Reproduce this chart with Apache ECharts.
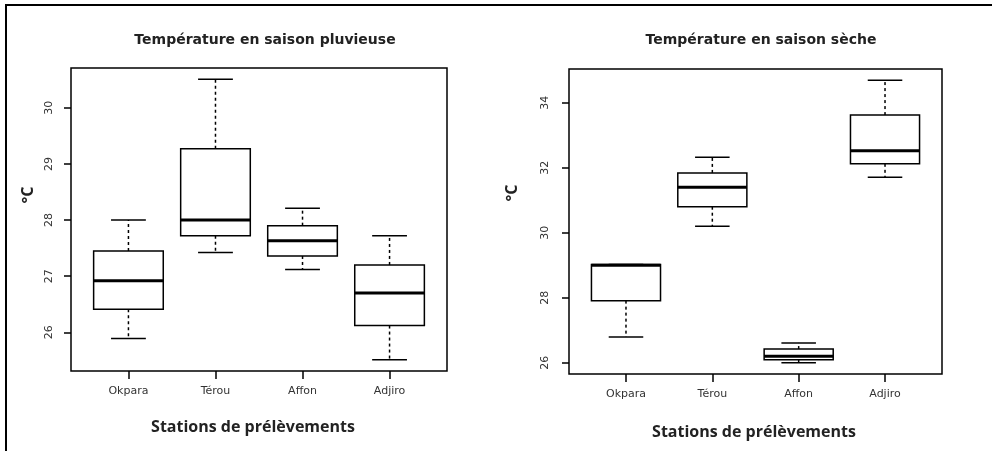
<!DOCTYPE html>
<html>
<head>
<meta charset="utf-8">
<script src="https://cdn.jsdelivr.net/npm/echarts@6/dist/echarts.min.js"></script>
<style>html,body{margin:0;padding:0;background:#fff;}#c{width:992px;height:451px;}</style>
</head>
<body>
<div id="c"></div>
<script>
// ---- data ----
const stations = ['Okpara', 'Térou', 'Affon', 'Adjiro'];
// [whisker low, Q1, median, Q3, whisker high]
const rainyMin    = [25.89, 27.42, 27.12, 25.51];
const rainyQ1     = [26.41, 27.72, 27.36, 26.12];
const rainyMedian = [26.92, 28.00, 27.63, 26.70];
const rainyQ3     = [27.45, 29.27, 27.90, 27.20];
const rainyMax    = [28.00, 30.51, 28.21, 27.72];

const dryMin    = [26.79, 30.20, 26.00, 31.71];
const dryQ1     = [27.91, 30.80, 26.09, 32.12];
const dryMedian = [29.00, 31.40, 26.20, 32.52];
const dryQ3     = [29.02, 31.84, 26.42, 33.62];
const dryMax    = [29.02, 32.32, 26.61, 34.69];

const rainyTicks = [26, 27, 28, 29, 30];
const dryTicks = [26, 28, 30, 32, 34];

const titleRainy = 'Température en saison pluvieuse';
const titleDry = 'Température en saison sèche';
const xTitle = 'Stations de prélèvements';
const yTitle = '°C';

// ---- build ----
function rows(mn, q1, md, q3, mx) {
  return stations.map((s, i) => [i + 1, mn[i], q1[i], md[i], q3[i], mx[i]]);
}
function ext(mn, mx) {
  const lo = Math.min(...mn), hi = Math.max(...mx), r = hi - lo;
  return [lo - 0.04 * r, hi + 0.04 * r];
}
const rainyExt = ext(rainyMin, rainyMax);
const dryExt = ext(dryMin, dryMax);
const xExt = [0.5 - 0.04 * stations.length, stations.length + 0.5 + 0.04 * stations.length];

function renderBox(params, api) {
  const x = api.value(0);
  const lo = api.coord([x, api.value(1)]);
  const q1 = api.coord([x, api.value(2)]);
  const md = api.coord([x, api.value(3)]);
  const q3 = api.coord([x, api.value(4)]);
  const hi = api.coord([x, api.value(5)]);
  const hw = api.size([0.8, 0])[0] / 2;
  const cw = hw / 2;
  const cx = md[0];
  const solid = { stroke: '#000', lineWidth: 1.5 };
  const dash = { stroke: '#000', lineWidth: 1.5, lineDash: [3, 3] };
  return {
    type: 'group',
    children: [
      { type: 'line', shape: { x1: cx, y1: q3[1], x2: cx, y2: hi[1] }, style: dash },
      { type: 'line', shape: { x1: cx, y1: q1[1], x2: cx, y2: lo[1] }, style: dash },
      { type: 'line', shape: { x1: cx - cw, y1: hi[1], x2: cx + cw, y2: hi[1] }, style: solid },
      { type: 'line', shape: { x1: cx - cw, y1: lo[1], x2: cx + cw, y2: lo[1] }, style: solid },
      { type: 'rect', shape: { x: cx - hw, y: q3[1], width: 2 * hw, height: q1[1] - q3[1] }, style: { fill: '#fff', stroke: '#000', lineWidth: 1.5 } },
      { type: 'line', shape: { x1: cx - hw, y1: md[1], x2: cx + hw, y2: md[1] }, style: { stroke: '#000', lineWidth: 3 } }
    ]
  };
}

function xAxisCfg(gi) {
  return {
    type: 'value', gridIndex: gi, min: xExt[0], max: xExt[1],
    splitLine: { show: false }, axisLine: { show: false },
    axisTick: { show: true, length: 8, customValues: [1, 2, 3, 4], lineStyle: { color: '#000', width: 1.5 } },
    axisLabel: { customValues: [1, 2, 3, 4], formatter: v => stations[Math.round(v) - 1] || '', margin: 15,
      color: '#333', fontFamily: 'DejaVu Sans', fontSize: 11 }
  };
}
function yAxisCfg(gi, e, ticks, margin) {
  return {
    type: 'value', gridIndex: gi, min: e[0], max: e[1],
    splitLine: { show: false }, axisLine: { show: false },
    axisTick: { show: true, length: 7, customValues: ticks, lineStyle: { color: '#000', width: 1.5 } },
    axisLabel: { customValues: ticks, rotate: 90, margin: margin, color: '#333', fontFamily: 'DejaVu Sans', fontSize: 11 }
  };
}

const titleStyle = { fontFamily: 'DejaVu Sans', fontWeight: 'bold', fontSize: 14, color: '#222' };
const axTitleStyle = { fontFamily: 'Open Sans', fontWeight: 'bold', fontSize: 16, fill: '#222' };

const chart = echarts.init(document.getElementById('c'), null, { renderer: 'canvas' });
chart.setOption({
  animation: false,
  backgroundColor: '#fff',
  title: [
    { text: titleRainy, left: 260, top: 28, textAlign: 'center', textStyle: titleStyle },
    { text: titleDry, left: 756, top: 28, textAlign: 'center', textStyle: titleStyle }
  ],
  grid: [
    { left: 71, top: 68, width: 376, height: 303, show: true, borderColor: '#000', borderWidth: 1.5, backgroundColor: 'transparent' },
    { left: 569, top: 69, width: 373, height: 305, show: true, borderColor: '#000', borderWidth: 1.5, backgroundColor: 'transparent' }
  ],
  xAxis: [xAxisCfg(0), xAxisCfg(1)],
  yAxis: [yAxisCfg(0, rainyExt, rainyTicks, 16), yAxisCfg(1, dryExt, dryTicks, 18)],
  series: [
    { type: 'custom', xAxisIndex: 0, yAxisIndex: 0, renderItem: renderBox, encode: { x: 0, y: [1, 2, 3, 4, 5] },
      data: rows(rainyMin, rainyQ1, rainyMedian, rainyQ3, rainyMax) },
    { type: 'custom', xAxisIndex: 1, yAxisIndex: 1, renderItem: renderBox, encode: { x: 0, y: [1, 2, 3, 4, 5] },
      data: rows(dryMin, dryQ1, dryMedian, dryQ3, dryMax) }
  ],
  graphic: [
    { type: 'polyline', shape: { points: [[6, 451], [6, 5], [992, 5]] }, style: { stroke: '#000', lineWidth: 2, fill: null } },
    { type: 'text', x: 253, y: 427, style: Object.assign({ text: xTitle, align: 'center', verticalAlign: 'middle' }, axTitleStyle) },
    { type: 'text', x: 754, y: 432, style: Object.assign({ text: xTitle, align: 'center', verticalAlign: 'middle' }, axTitleStyle) },
    { type: 'text', x: 28, y: 195, rotation: Math.PI / 2, style: Object.assign({ text: yTitle, align: 'center', verticalAlign: 'middle' }, axTitleStyle) },
    { type: 'text', x: 512, y: 193, rotation: Math.PI / 2, style: Object.assign({ text: yTitle, align: 'center', verticalAlign: 'middle' }, axTitleStyle) }
  ]
});
</script>
</body>
</html>
